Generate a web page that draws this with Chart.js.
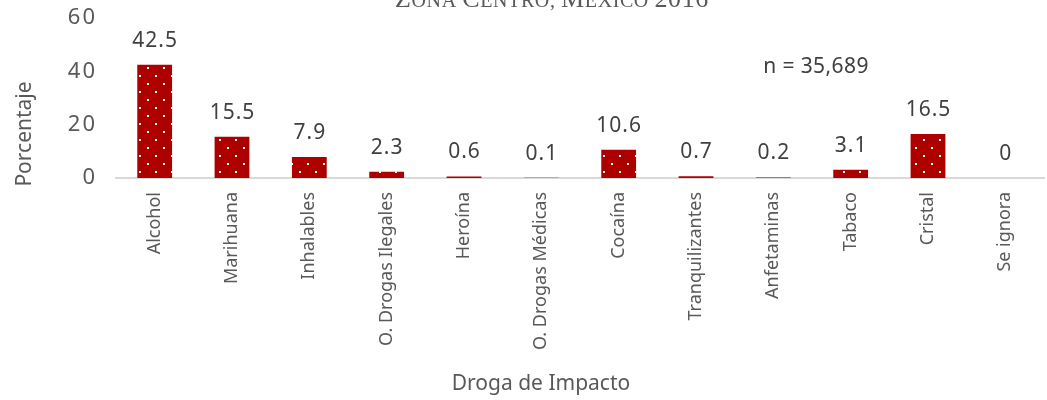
<!DOCTYPE html>
<html>
<head>
<meta charset="utf-8">
<script src="https://cdn.jsdelivr.net/npm/chart.js@4/dist/chart.umd.min.js"></script>
<style>
  html, body { margin: 0; padding: 0; background: #fff; }
  #wrap { width: 1047px; height: 400px; }
</style>
</head>
<body>
<div id="wrap"><canvas id="chart" width="1047" height="400"></canvas></div>
<script>
// Data
const drugs = ["Alcohol", "Marihuana", "Inhalables", "O. Drogas Ilegales", "Heroína",
  "O. Drogas Médicas", "Cocaína", "Tranquilizantes", "Anfetaminas", "Tabaco", "Cristal", "Se ignora"];
const percents = [42.5, 15.5, 7.9, 2.3, 0.6, 0.1, 10.6, 0.7, 0.2, 3.1, 16.5, 0];
const valueLabels = ["42.5", "15.5", "7.9", "2.3", "0.6", "0.1", "10.6", "0.7", "0.2", "3.1", "16.5", "0"];
const yTicks = [0, 20, 40, 60];
const sampleNote = "n = 35,689";
const titleText = "Zona Centro, México 2016";
const xTitle = "Droga de Impacto";
const yTitle = "Porcentaje";

const FONT = "'Noto Sans', 'Open Sans', sans-serif";
const RED = "#ad0000";

// dotted fill like the original (white dots on red)
function dotPattern() {
  const c = document.createElement("canvas");
  c.width = 16; c.height = 16;
  const g = c.getContext("2d");
  g.fillStyle = RED;
  g.fillRect(0, 0, 16, 16);
  g.fillStyle = "#ffffff";
  g.fillRect(3, 3, 2, 2);
  g.fillRect(11, 11, 2, 2);
  return g.createPattern(c, "repeat");
}

// y tick labels, value labels, note and titles
const extras = {
  id: "extras",
  afterDraw(chart) {
    const ctx = chart.ctx;
    const meta = chart.getDatasetMeta(0);
    const yScale = chart.scales.y;
    ctx.save();

    // y tick labels (wide digits)
    ctx.fillStyle = "#595959";
    ctx.font = "22px " + FONT;
    ctx.letterSpacing = "2px";
    ctx.textAlign = "right";
    ctx.textBaseline = "middle";
    yTicks.forEach(v => {
      ctx.fillText(String(v), 97, yScale.getPixelForValue(v));
    });

    // value labels above bars
    ctx.fillStyle = "#404040";
    ctx.font = "21px " + FONT;
    ctx.letterSpacing = "1px";
    ctx.textAlign = "center";
    meta.data.forEach((bar, i) => {
      ctx.fillText(valueLabels[i], bar.x + 0.5, bar.y - 24);
    });

    ctx.font = "21px " + FONT;
    ctx.letterSpacing = "0.4px";
    ctx.fillText(sampleNote, 816, 67);

    // axis titles, placed like the original
    ctx.fillStyle = "#595959";
    ctx.font = "21px " + FONT;
    ctx.letterSpacing = "0px";
    ctx.fillText(xTitle, 541, 384);
    ctx.translate(25, 134);
    ctx.rotate(-Math.PI / 2);
    ctx.fillText(yTitle, 0, 0);
    ctx.restore();

    // chart title, clipped at the top edge, small caps
    ctx.save();
    ctx.fillStyle = "#595959";
    ctx.textBaseline = "alphabetic";
    const parts = titleText.split("").map((ch, i, arr) => ({
      t: ch.toUpperCase(),
      big: /[0-9]/.test(ch) || (/[A-ZÉ]/.test(ch) && (i === 0 || arr[i - 1] === " "))
    }));
    let total = 0;
    parts.forEach(p => {
      ctx.font = (p.big ? "26px " : "20px ") + "'Liberation Serif', serif";
      p.w = ctx.measureText(p.t).width + 0.6;
      total += p.w;
    });
    let x = 552 - total / 2;
    parts.forEach(p => {
      ctx.font = (p.big ? "26px " : "20px ") + "'Liberation Serif', serif";
      ctx.fillText(p.t, x, 7);
      x += p.w;
    });
    ctx.restore();
  }
};

const ctx = document.getElementById("chart").getContext("2d");
new Chart(ctx, {
  type: "bar",
  data: {
    labels: drugs,
    datasets: [{
      data: percents,
      backgroundColor: dotPattern(),
      borderWidth: 0,
      barPercentage: 0.45,
      categoryPercentage: 1
    }]
  },
  options: {
    responsive: false,
    animation: false,
    layout: { padding: { top: 18, right: 3, left: 0, bottom: 0 } },
    plugins: { legend: { display: false }, tooltip: { enabled: false }, title: { display: false } },
    scales: {
      x: {
        grid: { display: false, drawTicks: false },
        border: { display: true, color: "#d9d9d9", width: 2 },
        ticks: {
          color: "#595959",
          font: { family: FONT, size: 18 },
          minRotation: 90,
          maxRotation: 90,
          padding: 14,
          autoSkip: false
        },
        afterFit(scale) { scale.height = 222; }
      },
      y: {
        min: 0,
        max: 60,
        afterBuildTicks(scale) { scale.ticks = yTicks.map(v => ({ value: v })); },
        grid: { display: false, drawTicks: false },
        border: { display: false },
        ticks: { display: false },
        afterFit(scale) { scale.width = 116; }
      }
    }
  },
  plugins: [extras]
});
</script>
</body>
</html>
